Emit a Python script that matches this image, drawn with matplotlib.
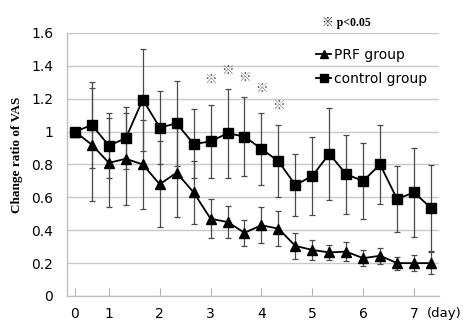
import numpy as np
import matplotlib
matplotlib.use('Agg')
import matplotlib.pyplot as plt

# measurement time points (days); day 0-1 every 12 h, then every 8 h
days = [0, 0.5, 1, 1.33, 1.67, 2, 2.33, 2.67, 3, 3.33, 3.67, 4,
		4.33, 4.67, 5, 5.33, 5.67, 6, 6.33, 6.67, 7, 7.33]

prf_mean = [1.0, 0.92, 0.81, 0.835, 0.80, 0.68, 0.75, 0.63, 0.47, 0.45, 0.385,
			0.43, 0.41, 0.305, 0.28, 0.265, 0.27, 0.23, 0.245, 0.2, 0.2, 0.2]
prf_sd = [0.0, 0.345, 0.27, 0.28, 0.27, 0.26, 0.27, 0.19, 0.12, 0.10, 0.08,
		  0.11, 0.105, 0.08, 0.06, 0.045, 0.06, 0.05, 0.05, 0.04, 0.05, 0.065]

ctrl_mean = [1.0, 1.04, 0.915, 0.96, 1.195, 1.025, 1.05, 0.925, 0.94, 0.99, 0.97,
			 0.895, 0.82, 0.675, 0.73, 0.865, 0.74, 0.70, 0.80, 0.59, 0.63, 0.535]
ctrl_sd = [0.0, 0.26, 0.20, 0.19, 0.31, 0.22, 0.26, 0.21, 0.22, 0.27, 0.24,
		   0.22, 0.22, 0.19, 0.24, 0.28, 0.24, 0.23, 0.24, 0.20, 0.27, 0.26]

# significance marks (index of time point, height)
sig_idx = [8, 9, 10, 11, 12]
sig_y = [1.32, 1.37, 1.33, 1.26, 1.16]

x = np.arange(len(days))
tick_pos = [i for i, d in enumerate(days) if float(d).is_integer()]
tick_lab = [str(int(days[i])) for i in tick_pos]

fig = plt.figure(figsize=(4.64, 3.21), dpi=100)
ax = fig.add_axes([0.1444, 0.0779, 0.8016, 0.8193])

ax.errorbar(x, ctrl_mean, yerr=ctrl_sd, fmt='none', ecolor='#4a4a4a',
			elinewidth=0.9, capsize=2.5, capthick=0.9, zorder=2)
ax.errorbar(x, prf_mean, yerr=prf_sd, fmt='none', ecolor='#4a4a4a',
			elinewidth=0.9, capsize=2.5, capthick=0.9, zorder=2)
ax.plot(x, prf_mean, color='black', lw=1.3, marker='^', ms=7.5,
		label='PRF group', zorder=3)
ax.plot(x, ctrl_mean, color='black', lw=1.3, marker='s', ms=6.8,
		label='control group', zorder=3)

for i, yy in zip(sig_idx, sig_y):
	ax.text(x[i], yy, '\u203b', ha='center', va='center', fontsize=9,
			color='#555555', family=['Noto Sans CJK JP', 'DejaVu Sans'])

ax.set_xlim(-0.47, len(days) - 1 + 0.47)
ax.set_ylim(0, 1.6)
ax.set_yticks(np.arange(0, 1.61, 0.2))
ax.set_yticklabels(['0', '0.2', '0.4', '0.6', '0.8', '1', '1.2', '1.4', '1.6'])
ax.set_xticks(tick_pos)
ax.set_xticklabels(tick_lab)

ax.grid(axis='y', color='#c8c8c8', lw=1.0, zorder=0)
ax.set_axisbelow(True)
for s in ['top', 'right']:
	ax.spines[s].set_visible(False)
for s in ['left', 'bottom']:
	ax.spines[s].set_color('#c0c0c0')
	ax.spines[s].set_linewidth(1.0)

ax.tick_params(axis='x', direction='in', length=6, color='#b0b0b0',
			   labelsize=10, pad=8)
ax.tick_params(axis='y', length=0, labelsize=10, pad=10)

ax.text(0.968, -0.065, '(day)', transform=ax.transAxes, ha='left', va='center',
		fontsize=9.5)
ax.text(0.685, 1.037, '\u203b p<0.05', transform=ax.transAxes, ha='left',
		va='center', fontsize=8.5, fontweight='bold',
		family=['Liberation Serif', 'Noto Sans CJK JP'])

ax.set_ylabel('Change ratio of VAS', family='Liberation Serif',
			  fontweight='bold', fontsize=9.5)
ax.yaxis.set_label_coords(-0.118, 0.535)

ax.legend(loc='upper left', bbox_to_anchor=(0.655, 0.965), frameon=False,
		  handlelength=1.1, handletextpad=0.15, labelspacing=0.75,
		  fontsize=10, borderaxespad=0, markerscale=0.8)

plt.savefig('out.png', dpi=100)
